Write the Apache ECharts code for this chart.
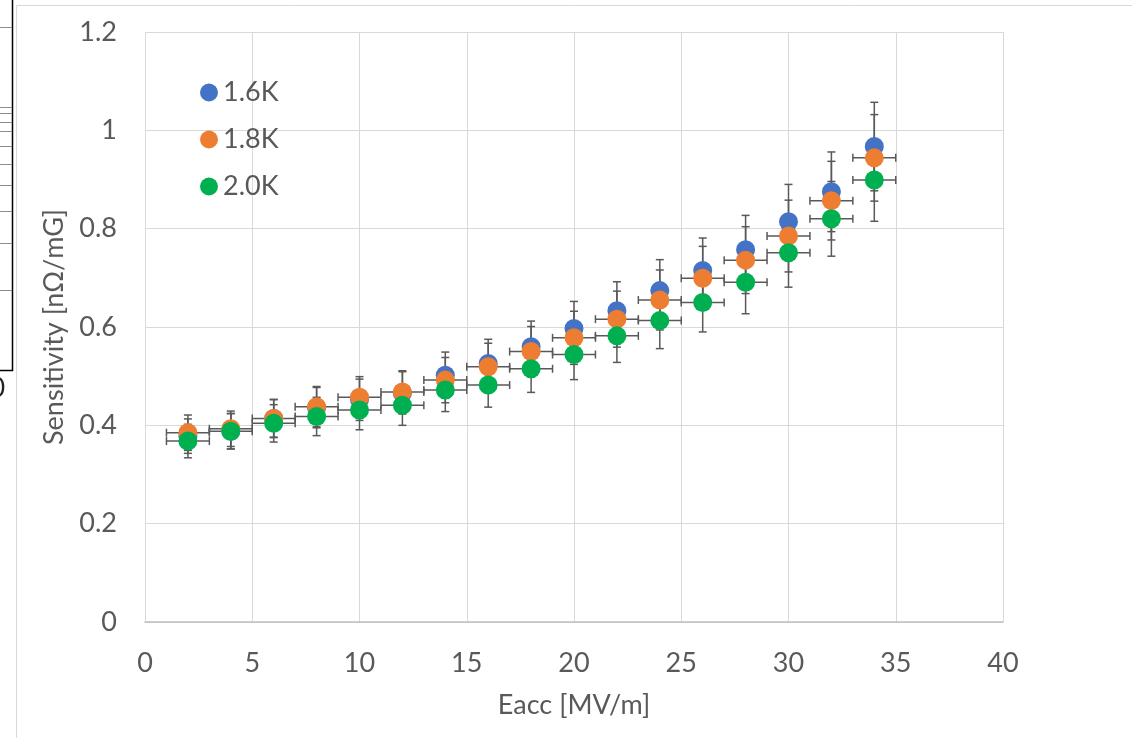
<!DOCTYPE html>
<html>
<head>
<meta charset="utf-8">
<script src="https://cdn.jsdelivr.net/npm/echarts@6/dist/echarts.min.js"></script>
<style>
  html, body { margin: 0; padding: 0; background: #fff; }
  #chart { width: 1132px; height: 738px; }
</style>
</head>
<body>
<div id="chart"></div>
<script>
// Eacc [MV/m]
const eacc = [2, 4, 6, 8, 10, 12, 14, 16, 18, 20, 22, 24, 26, 28, 30, 32, 34];

// sensitivity [nOhm/mG]
const sens16 = [0.378, 0.388, 0.414, 0.436, 0.452, 0.466, 0.502, 0.526, 0.560, 0.597, 0.633, 0.674, 0.715, 0.757, 0.814, 0.875, 0.967];
const sens18 = [0.385, 0.393, 0.414, 0.438, 0.457, 0.468, 0.492, 0.519, 0.550, 0.578, 0.616, 0.655, 0.699, 0.736, 0.785, 0.857, 0.944];
const sens20 = [0.368, 0.388, 0.404, 0.418, 0.431, 0.441, 0.472, 0.482, 0.515, 0.544, 0.582, 0.613, 0.650, 0.691, 0.751, 0.820, 0.899];

// y error bars (+/-)
const errY16 = [0.035, 0.036, 0.039, 0.041, 0.042, 0.043, 0.047, 0.049, 0.052, 0.055, 0.059, 0.063, 0.066, 0.070, 0.076, 0.081, 0.090];
const errY18 = [0.036, 0.036, 0.038, 0.041, 0.042, 0.043, 0.046, 0.048, 0.051, 0.054, 0.057, 0.061, 0.065, 0.068, 0.073, 0.080, 0.088];
const errY20 = [0.034, 0.036, 0.038, 0.039, 0.040, 0.041, 0.044, 0.045, 0.048, 0.051, 0.054, 0.057, 0.060, 0.064, 0.070, 0.076, 0.084];

// x error bars (+/-), 1.6K has none
const errX18 = [1, 1, 1, 1, 1, 1, 1, 1, 1, 1, 1, 1, 1, 1, 1, 1, 1];
const errX20 = [1, 1, 1, 1, 1, 1, 1, 1, 1, 1, 1, 1, 1, 1, 1, 1, 1];

const names = ["1.6K", "1.8K", "2.0K"];
const colors = ["#4472C4", "#ED7D31", "#00B050"];

const FONT = "Lato";
const FS = 27;
const TXT = "#595959";
const BAR = "#595959";

const chart = echarts.init(document.getElementById("chart"));

function errorSeries(ys, ey, ex) {
  const data = eacc.map((x, i) => [x, ys[i], ey[i], ex ? ex[i] : 0]);
  return {
    type: "custom",
    silent: true,
    z: 1,
    data: data,
    renderItem: function (params, api) {
      const x = api.value(0), y = api.value(1), dy = api.value(2), dx = api.value(3);
      const style = { stroke: BAR, lineWidth: 1.5 };
      const top = api.coord([x, y + dy]);
      const bot = api.coord([x, y - dy]);
      const c = 4;
      const kids = [
        { type: "line", shape: { x1: top[0], y1: top[1], x2: bot[0], y2: bot[1] }, style },
        { type: "line", shape: { x1: top[0] - c, y1: top[1], x2: top[0] + c, y2: top[1] }, style },
        { type: "line", shape: { x1: bot[0] - c, y1: bot[1], x2: bot[0] + c, y2: bot[1] }, style }
      ];
      if (dx > 0) {
        const l = api.coord([x - dx, y]);
        const r = api.coord([x + dx, y]);
        kids.push(
          { type: "line", shape: { x1: l[0], y1: l[1], x2: r[0], y2: r[1] }, style },
          { type: "line", shape: { x1: l[0], y1: l[1] - c, x2: l[0], y2: l[1] + c }, style },
          { type: "line", shape: { x1: r[0], y1: r[1] - c, x2: r[0], y2: r[1] + c }, style }
        );
      }
      return { type: "group", children: kids };
    }
  };
}

function dotSeries(k, ys) {
  return {
    name: names[k],
    type: "scatter",
    z: 3,
    symbol: "circle",
    symbolSize: 19,
    itemStyle: { color: colors[k], opacity: 1 },
    data: eacc.map((x, i) => [x, ys[i]])
  };
}

const option = {
  backgroundColor: "#fff",
  animation: false,
  textStyle: { fontFamily: FONT },
  grid: { left: 145, right: 129, top: 32, bottom: 116 },
  legend: {
    data: names,
    orient: "vertical",
    left: 195,
    top: 74,
    itemWidth: 18,
    itemHeight: 18,
    itemGap: 20,
    icon: "circle",
    textStyle: { fontFamily: FONT, fontSize: FS, lineHeight: 27, color: TXT }
  },
  xAxis: {
    type: "value",
    min: 0,
    max: 40,
    interval: 5,
    name: "Eacc [MV/m]",
    nameLocation: "middle",
    nameGap: 70,
    nameTextStyle: { fontFamily: FONT, fontSize: FS, color: TXT },
    axisLine: { show: true, lineStyle: { color: "#bfbfbf", width: 1.5 } },
    axisTick: { show: false },
    axisLabel: { fontFamily: FONT, fontSize: FS, color: TXT, margin: 28 },
    splitLine: { show: true, lineStyle: { color: "#d9d9d9", width: 1 } }
  },
  yAxis: {
    type: "value",
    min: 0,
    max: 1.2,
    interval: 0.2,
    name: "Sensitivity [nΩ/mG]",
    nameLocation: "middle",
    nameGap: 77,
    nameTextStyle: { fontFamily: FONT, fontSize: FS, color: TXT },
    axisLine: { show: false },
    axisTick: { show: false },
    axisLabel: {
      fontFamily: FONT, fontSize: FS, color: TXT, margin: 28,
      formatter: v => String(Math.round(v * 10) / 10)
    },
    splitLine: { show: true, lineStyle: { color: "#d9d9d9", width: 1 } }
  },
  graphic: [
    // chart frame edge
    { type: "polyline", silent: true, shape: { points: [[16.5, 738], [16.5, 5.5], [1132, 5.5]] },
      style: { stroke: "#d9d9d9", lineWidth: 1, fill: null } },
    // clipped neighbour chart on the left
    { type: "polyline", silent: true, shape: { points: [[0, 370.5], [12.5, 370.5], [12.5, 0]] },
      style: { stroke: "#000", lineWidth: 1.5, fill: null } },
    { type: "group", silent: true, children:
      [27, 107, 113, 122, 131, 146, 164, 185, 211, 243, 290].map(y => ({
        type: "line", shape: { x1: 0, y1: y + 0.5, x2: 12, y2: y + 0.5 },
        style: { stroke: "#8c8c8c", lineWidth: 1 }
      }))
    },
    { type: "text", silent: true, left: -10, top: 376,
      style: { text: "0", font: "26px " + FONT, fill: "#222" } }
  ],
  series: [
    errorSeries(sens16, errY16, null),
    errorSeries(sens18, errY18, errX18),
    errorSeries(sens20, errY20, errX20),
    dotSeries(0, sens16),
    dotSeries(1, sens18),
    dotSeries(2, sens20)
  ]
};

chart.setOption(option);
</script>
</body>
</html>
